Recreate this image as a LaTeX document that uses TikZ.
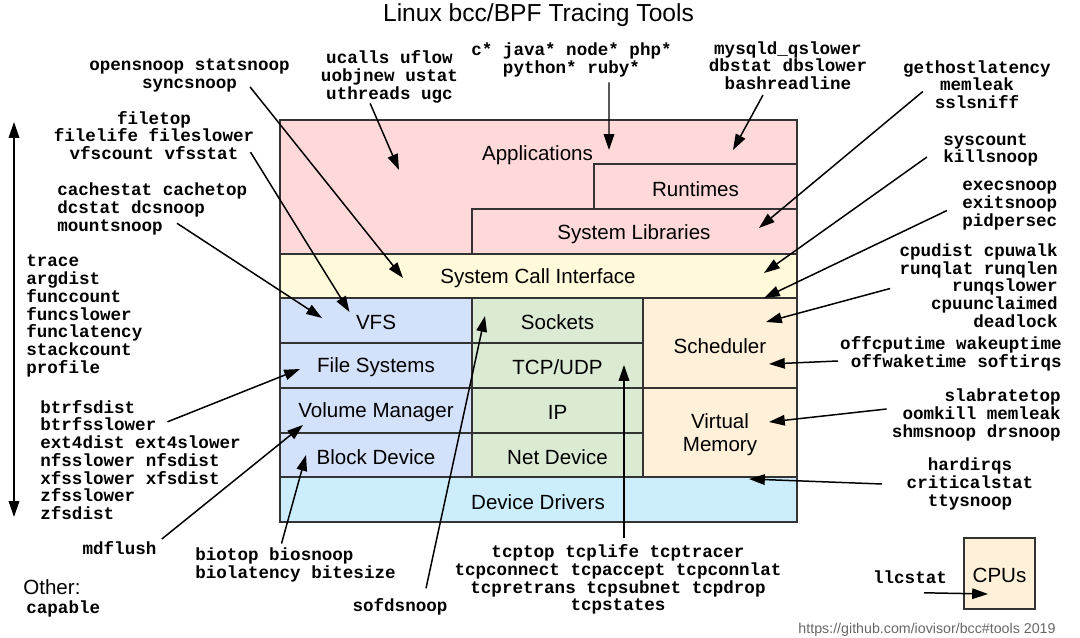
\documentclass[tikz,border=0pt]{standalone}
\usepackage{fontspec}
\setmainfont{Liberation Sans}
\setmonofont{Liberation Mono}
\usetikzlibrary{arrows.meta}
\definecolor{appcol}{RGB}{255,217,217}
\definecolor{syscol}{RGB}{255,250,217}
\definecolor{vfscol}{RGB}{212,225,250}
\definecolor{netcol}{RGB}{218,234,211}
\definecolor{schedcol}{RGB}{255,240,217}
\definecolor{drvcol}{RGB}{204,238,252}

\begin{document}
\begin{tikzpicture}[x=0.02cm, y=-0.02cm,
    layer/.style={draw=black!80, line width=0.8pt},
    boxlabel/.style={font=\fontsize{11.7}{13.3}\selectfont, align=center, inner sep=0pt},
    tool/.style={font=\ttfamily\bfseries\fontsize{10}{10.1}\selectfont, align=center, inner sep=0pt},
    toolarrow/.style={line width=0.85pt, -{Triangle[length=9pt, width=6pt]}},
    bothways/.style={line width=0.85pt, {Triangle[length=9pt, width=6pt]}-{Triangle[length=9pt, width=6pt]}}]
    \useasboundingbox (0, 0) rectangle (1080, 638);

    \node (title) [font=\fontsize{14}{16}\selectfont] at (538.5, 15) {Linux bcc/BPF Tracing Tools};

    \path [layer, fill=appcol] (280, 120) rectangle (797, 254);
    \path [layer, fill=appcol] (594, 164) rectangle (797, 209);
    \path [layer, fill=appcol] (472, 209) rectangle (797, 254);
    \path [layer, fill=syscol] (280, 254) rectangle (797, 298);
    \node (apps) [boxlabel] at (537.5, 155) {Applications};
    \node (runtimes) [boxlabel] at (695.5, 189) {Runtimes};
    \node (syslibs) [boxlabel] at (634, 234) {System Libraries};
    \node (syscalls) [boxlabel] at (538, 278) {System Call Interface};

    \foreach \y/\n/\t in {298/vfs/VFS, 343/filesys/File Systems, 388/volmgr/Volume Manager, 433/blockdev/Block Device} {
      \path [layer, fill=vfscol] (280, \y) rectangle (472, \y + 45);
      \node (\n) [boxlabel] at (376, \y + 24) {\t};
    }
    \foreach \y/\n/\t in {298/sockets/Sockets, 343/tcpudp/{TCP/UDP}, 388/ip/IP, 433/netdev/Net Device} {
      \path [layer, fill=netcol] (472, \y) rectangle (643, \y + 45);
      \node (\n) [boxlabel] at (557.5, \y + 24) {\t};
    }
    \path [layer, fill=schedcol] (643, 298) rectangle (797, 388);
    \path [layer, fill=schedcol] (643, 388) rectangle (797, 477);
    \path [layer, fill=drvcol] (280, 477) rectangle (797, 522);
    \node (sched) [boxlabel] at (720, 346) {Scheduler};
    \node (virtmem) [boxlabel] at (720, 435) {Virtual\\Memory};
    \node (drivers) [boxlabel] at (538, 502) {Device Drivers};

    \path [layer, fill=schedcol] (964, 538) rectangle (1035, 609);
    \node (cpus) [boxlabel] at (999.5, 575) {CPUs};

    \node (opensnoop) [tool] at (189.5, 75.5) {opensnoop statsnoop\\syncsnoop};
    \node (ucalls) [tool] at (389.5, 77) {ucalls uflow\\uobjnew ustat\\uthreads ugc};
    \node (langs) [tool] at (571.5, 60) {c* java* node* php*\\python* ruby*};
    \node (mysqld) [tool] at (788, 65.5) {mysqld\_qslower\\dbstat dbslower\\bashreadline};
    \node (gethost) [tool] at (977, 84.5) {gethostlatency\\memleak\\sslsniff};
    \node (syscount) [tool, align=left, anchor=west] at (943, 150) {syscount\\killsnoop};
    \node (execsnoop) [tool, align=left, anchor=west] at (962, 205.5) {execsnoop\\exitsnoop\\pidpersec};
    \node (cpudist) [tool, align=right, anchor=east] at (1058, 285.5) {cpudist cpuwalk\\runqlat runqlen\\runqslower\\cpuunclaimed\\deadlock};
    \node (offcpu) [tool, align=right, anchor=east] at (1062, 354) {offcputime wakeuptime\\offwaketime softirqs};
    \node (slabtop) [tool, align=right, anchor=east] at (1061, 415) {slabratetop\\oomkill memleak\\shmsnoop drsnoop};
    \node (hardirqs) [tool] at (970, 484) {hardirqs\\criticalstat\\ttysnoop};
    \node (llcstat) [tool] at (910, 577) {llcstat};
    \node (tcptop) [tool] at (618, 579.5) {tcptop tcplife tcptracer\\tcpconnect tcpaccept tcpconnlat\\tcpretrans tcpsubnet tcpdrop\\tcpstates};
    \node (sofdsnoop) [tool] at (400, 607) {sofdsnoop};
    \node (biotop) [tool, align=left, anchor=west] at (195, 565) {biotop biosnoop\\biolatency bitesize};
    \node (mdflush) [tool] at (119.5, 548) {mdflush};
    \node (btrfs) [tool, align=left, anchor=west] at (40, 460) {btrfsdist\\btrfsslower\\ext4dist ext4slower\\nfsslower nfsdist\\xfsslower xfsdist\\zfsslower\\zfsdist};
    \node (trace) [tool, align=left, anchor=west] at (26, 316) {trace\\argdist\\funccount\\funcslower\\funclatency\\stackcount\\profile};
    \node (cachestat) [tool, align=left, anchor=west] at (57, 209) {cachestat cachetop\\dcstat dcsnoop\\mountsnoop};
    \node (filetop) [tool] at (154, 135.5) {filetop\\filelife fileslower\\vfscount vfsstat};
    \node (other) [boxlabel, anchor=west] at (23, 587) {Other:};
    \node (capable) [tool, anchor=west] at (26, 609) {capable};
    \node (source) [font=\fontsize{8.1}{9}\selectfont, text=black!60, inner sep=0pt] at (927, 630) {https://github.com/iovisor/bcc\#tools 2019};

    \coordinate (sci-a) at (403, 278);
    \coordinate (app-a) at (399, 170);
    \coordinate (app-b) at (609, 150);
    \coordinate (app-c) at (733, 150);
    \coordinate (lib-a) at (759, 228);
    \coordinate (sci-b) at (764, 273);
    \coordinate (sci-c) at (764, 298);
    \coordinate (sch-a) at (766, 322);
    \coordinate (sch-b) at (769, 364);
    \coordinate (vm-a) at (769, 422);
    \coordinate (vm-b) at (749, 479);
    \coordinate (cpu-a) at (988, 594);
    \coordinate (tcp-a) at (624, 365);
    \coordinate (sock-a) at (485, 316);
    \coordinate (blk-a) at (306, 455);
    \coordinate (vol-a) at (303, 425);
    \coordinate (fs-a) at (300, 369);
    \coordinate (vfs-a) at (322, 318);
    \coordinate (vfs-b) at (349.5, 312);
    \coordinate (depth-top) at (14, 122);
    \coordinate (depth-bot) at (14, 517);

    \draw [toolarrow] ([shift={(-40,-5.5)}]opensnoop.south east) -- (sci-a);
    \draw [toolarrow] ([xshift=-11]ucalls.south) -- (app-a);
    \draw [toolarrow] ([shift={(37.5,5)}]langs.south) -- (app-b);
    \draw [toolarrow] ([shift={(-25,5)}]mysqld.south) -- (app-c);
    \draw [toolarrow] ([shift={(20,7)}]gethost.west) -- (lib-a);
    \draw [toolarrow] ([shift={(-16,7)}]syscount.west) -- (sci-b);
    \draw [toolarrow] ([shift={(-15,5)}]execsnoop.west) -- (sci-c);
    \draw [toolarrow] ([shift={(-9,3)}]cpudist.west) -- (sch-a);
    \draw [toolarrow] ([shift={(-2,7)}]offcpu.west) -- (sch-b);
    \draw [toolarrow] ([shift={(-5,-6)}]slabtop.west) -- (vm-a);
    \draw [toolarrow] ([xshift=-14]hardirqs.west) -- (vm-b);
    \draw [toolarrow] ([shift={(14,9)}]llcstat.south) -- (cpu-a);
    \draw [toolarrow] ([shift={(6,-6)}]tcptop.north) -- (tcp-a);
    \draw [toolarrow] ([shift={(26,-10)}]sofdsnoop.north) -- (sock-a);
    \draw [toolarrow] ([shift={(-14,-4)}]biotop.north) -- (blk-a);
    \draw [toolarrow] ([shift={(5,-2)}]mdflush.north east) -- (vol-a);
    \draw [toolarrow] ([shift={(27,22)}]btrfs.north) -- (fs-a);
    \draw [toolarrow] ([shift={(120,-12)}]cachestat.south west) -- (vfs-a);
    \draw [toolarrow] ([shift={(-4,-8)}]filetop.south east) -- (vfs-b);
    \draw [bothways] (depth-top) -- (depth-bot);
  \end{tikzpicture}
\end{document}
